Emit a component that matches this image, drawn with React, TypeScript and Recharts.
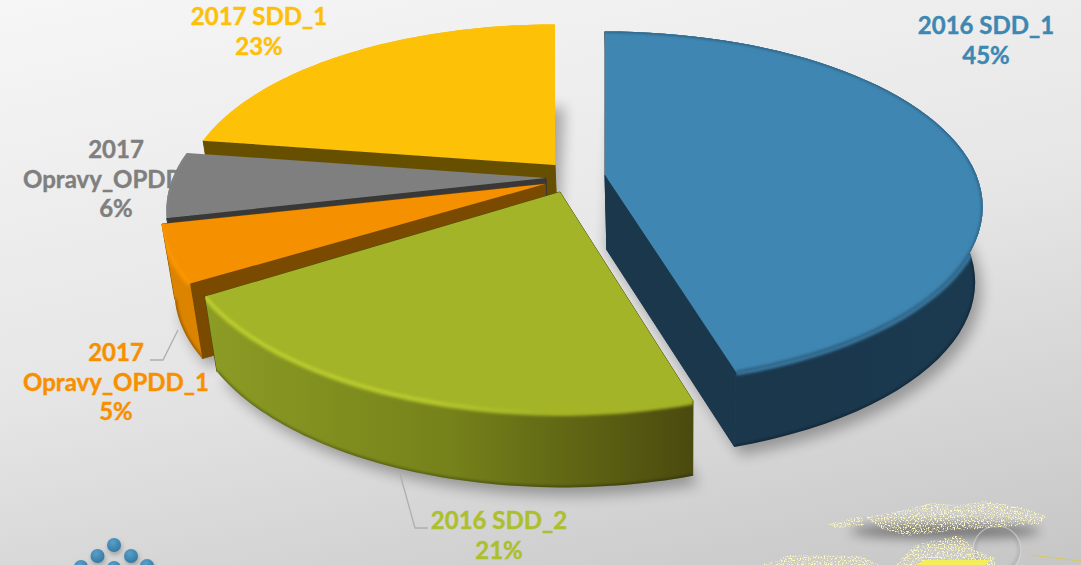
import { PieChart, Pie } from 'recharts'

// draw order runs back to front, so the slices go counter-clockwise from the top
const names = ['2017 SDD_1', '2017 Opravy_OPDD_2', '2017 Opravy_OPDD_1', '2016 SDD_2', '2016 SDD_1']
const shares = [22.6, 6, 5.2, 20.9, 45.3]
const data = names.map((name, i) => ({ name, value: shares[i] }))

const W = 1081
const H = 565
const CX = 555
const CY = 175
const R = 377
const RY = 171.5
const TILT = 0.183
const DEPTH = 75

const looks: Record<string, any> = {
  '2016 SDD_1': { dx: 50, dy: 0, sx: 0.985, sy: 0.99, top: '#3f86b2', cut: '#1a374c', wall: ['#1a374c', '#1a374c', '#1b3a50'], rim: '#1c3f56', text: '#3d87b3' },
  '2016 SDD_2': { dx: 5, dy: 17, sx: 1, sy: 1.05, top: '#a4b428', cut: '#4c4c10', wall: ['#8c9c24', '#76821a', '#4a4a0e'], rim: '#8b9a20', text: '#adbf2c', shine: '#c4d834' },
  '2017 Opravy_OPDD_1': { dx: -10, dy: 9, sx: 1, sy: 1, top: '#f59000', cut: '#7a4a00', wall: ['#dc8400', '#dc8400', '#dc8400'], rim: '#ff9f00', text: '#f79000' },
  '2017 Opravy_OPDD_2': { dx: -9, dy: 3, sx: 0.99, sy: 1, flat: true, top: '#7f7f7f', cut: '#383838', rim: '#8a8a8a', text: '#7f7f7f' },
  '2017 SDD_1': { dx: 0, dy: -10, sx: 0.97, sy: 0.97, flat: true, top: '#fdc107', cut: '#665000', rim: '#fdc107', text: '#fdc007' },
}

const labelSpots: Record<string, { x: number; y: number; lines: string[] }> = {
  '2016 SDD_1': { x: 986, y: 34, lines: ['2016 SDD_1'] },
  '2016 SDD_2': { x: 499, y: 529, lines: ['2016 SDD_2'] },
  '2017 Opravy_OPDD_1': { x: 116, y: 361, lines: ['2017', 'Opravy_OPDD_1'] },
  '2017 Opravy_OPDD_2': { x: 116, y: 158, lines: ['2017', 'Opravy_OPDD_2'] },
  '2017 SDD_1': { x: 259, y: 25, lines: ['2017 SDD_1'] },
}

const leaders: Record<string, string> = {
  '2016 SDD_2': '400,474 415,528 428,528',
  '2017 Opravy_OPDD_1': '178,330 163,360 150,360',
}

const rad = (d: number) => (d * Math.PI) / 180

// top face point for a clockwise-from-top angle, with the picture's perspective
function project(ax: number, ay: number, theta: number, sx: number, sy: number) {
  const u = -Math.cos(rad(theta))
  const v = Math.sin(rad(theta))
  const w = 1 - TILT * u
  return { x: ax + (R * sx * v) / w, y: ay + (RY * sy * u) / w }
}

// same point dropped to the bottom of the slab
function drop(p: { x: number; y: number }) {
  return { x: 680 + (p.x - 680) * 0.975, y: p.y + DEPTH }
}

function line(pts: { x: number; y: number }[]) {
  return pts.map((p, i) => `${i ? 'L' : 'M'}${p.x.toFixed(1)} ${p.y.toFixed(1)}`).join(' ')
}

function sliceGeometry(props: any) {
  const look = looks[props.name ?? props.payload?.name]
  const ax = props.cx + look.dx
  const ay = props.cy + look.dy
  // recharts angles are counter-clockwise from east
  const a = 90 - props.endAngle
  const b = 90 - props.startAngle
  const from = ((Math.min(a, b) % 360) + 360) % 360
  const span = Math.abs(b - a)
  const arc = []
  for (let i = 0; i <= 60; i++) arc.push(project(ax, ay, from + (span * i) / 60, look.sx, look.sy))
  return { look, ax, ay, arc, apex: { x: ax, y: ay } }
}

function renderShadow(props: any) {
  const { arc, apex } = sliceGeometry(props)
  const bottom = arc.map(drop).map((p) => ({ x: p.x + 6, y: p.y + 8 }))
  const d = line([drop(apex), ...bottom]) + ' Z'
  return <path d={d} fill="#000" opacity={0.3} filter="url(#softShadow)" />
}

function renderSlice(props: any) {
  const { look, apex, arc } = sliceGeometry(props)
  const id = (props.name ?? props.payload?.name).replace(/\W/g, '')
  const bottomArc = arc.map(drop)
  const low = drop(apex)
  const first = arc[0]
  const last = arc[arc.length - 1]
  const xs = arc.map((p) => p.x)
  const minX = Math.min(...xs)
  const maxX = Math.max(...xs)
  const wallD = line([...arc, ...[...bottomArc].reverse()]) + ' Z'
  const topD = line([apex, ...arc]) + ' Z'
  const rimD = line(arc)
  const cutStyle = { fill: look.cut, stroke: look.cut, strokeWidth: 1, strokeLinejoin: 'round' as const }
  return (
    <g>
      <defs>
        <linearGradient id={`wall${id}`} gradientUnits="userSpaceOnUse" x1={minX} x2={maxX} y1={0} y2={0}>
          {(look.wall ?? []).map((c: string, i: number) => (
            <stop key={i} offset={i / 2} stopColor={c} />
          ))}
        </linearGradient>
        <linearGradient id={`shine${id}`} gradientUnits="userSpaceOnUse" x1={minX} x2={maxX} y1={0} y2={0}>
          <stop offset="0" stopColor={look.shine ?? look.rim} stopOpacity="1" />
          <stop offset="0.45" stopColor={look.shine ?? look.rim} stopOpacity="0.8" />
          <stop offset="0.7" stopColor={look.shine ?? look.rim} stopOpacity="0" />
        </linearGradient>
        <clipPath id={`solid${id}`}>
          <path d={topD} />
          {!look.flat && <path d={wallD} />}
        </clipPath>
      </defs>
      <path d={line([apex, first, drop(first), low]) + ' Z'} {...cutStyle} />
      {!look.flat && <path d={line([apex, last, drop(last), low]) + ' Z'} {...cutStyle} />}
      {!look.flat && (
        <>
          <path d={wallD} fill={`url(#wall${id})`} />
          <path d={line(bottomArc)} fill="none" stroke="#000" strokeOpacity={0.35} strokeWidth={3} filter="url(#softEdge)" clipPath={`url(#solid${id})`} />
        </>
      )}
      <path d={topD} fill={look.top} />
      <g clipPath={`url(#solid${id})`}>
        <path d={rimD} fill="none" stroke={look.top} strokeWidth={7} filter="url(#softEdge)" />
        <path d={rimD} fill="none" stroke={look.shine ? `url(#shine${id})` : look.rim} strokeWidth={look.shine ? 2.5 : 1.5} filter="url(#softEdge)" />
      </g>
    </g>
  )
}

function renderLabel(props: any) {
  const name = props.name ?? props.payload?.name
  const spot = labelSpots[name]
  const look = looks[name]
  const rows = [...spot.lines, `${Math.round(props.percent * 100)}%`]
  return (
    <g key={name}>
      {leaders[name] && <polyline points={leaders[name]} fill="none" stroke="#aeaeae" strokeWidth={1.3} />}
      <text fill={look.text} stroke={look.text} strokeWidth={0.4} fontFamily="Lato, sans-serif" fontWeight={700} fontSize={24} textAnchor="middle">
        {rows.map((row, i) => (
          <tspan key={row} x={spot.x} y={spot.y + i * 29.5}>
            {row}
          </tspan>
        ))}
      </text>
    </g>
  )
}

function Backdrop() {
  const dots = [[114, 545], [97.5, 556], [131, 556], [81, 567], [147, 566], [114, 568]]
  return (
    <svg width={W} height={H} style={{ position: 'absolute', left: 0, top: 0 }}>
      <defs>
        <filter id="softShadow" x="-20%" y="-20%" width="140%" height="140%">
          <feGaussianBlur stdDeviation="7" />
        </filter>
        <filter id="softEdge" filterUnits="userSpaceOnUse" x="0" y="0" width={W} height={H}>
          <feGaussianBlur stdDeviation="1.6" />
        </filter>
        <filter id="dotShade" x="-50%" y="-50%" width="200%" height="200%">
          <feGaussianBlur stdDeviation="2.5" />
        </filter>
        <filter id="blotShade" x="-20%" y="-200%" width="140%" height="500%">
          <feGaussianBlur stdDeviation="6" />
        </filter>
        <filter id="speckle" x="0" y="0" width="100%" height="100%">
          <feTurbulence type="fractalNoise" baseFrequency="0.7" numOctaves="2" seed="4" />
          <feColorMatrix values="0 0 0 0 1  0 0 0 0 0.95  0 0 0 0 0.5  4 4 0 0 -3.95" />
          <feComposite in2="SourceGraphic" operator="in" />
        </filter>
        <radialGradient id="dotFill" cx="0.4" cy="0.3" r="0.8">
          <stop offset="0" stopColor="#5a9fc8" />
          <stop offset="1" stopColor="#2f749f" />
        </radialGradient>
      </defs>
      {dots.map(([x, y]) => (
        <circle key={`${x}-${y}-s`} cx={x + 1} cy={y + 3} r={7} fill="#000" opacity={0.25} filter="url(#dotShade)" />
      ))}
      {dots.map(([x, y]) => (
        <circle key={`${x}-${y}`} cx={x} cy={y} r={7} fill="url(#dotFill)" />
      ))}
      <ellipse cx={945} cy={531} rx={95} ry={7} fill="#000" opacity={0.45} filter="url(#blotShade)" />
      <circle cx={997} cy={550} r={22} fill="none" stroke="#8f8f8f" strokeWidth={2} opacity={0.5} filter="url(#softEdge)" />
      <circle cx={997} cy={550} r={24} fill="none" stroke="#e8e8e8" strokeWidth={1.2} opacity={0.5} />
      <g filter="url(#speckle)">
        <path d="M865 517 L900 511 L930 503 L960 505 L985 501 L1020 507 L1046 516 L1040 524 L1000 527 L950 531 L905 536 L880 528 Z" fill="#fff" />
        <path d="M828 524 L862 516 L864 526 L835 528 Z" fill="#fff" />
        <path d="M760 565 L790 555 L860 556 L880 565 Z" fill="#fff" />
        <path d="M895 565 L915 545 L960 535 L975 550 L995 558 L995 565 Z" fill="#fff" />
      </g>
      <path d="M916 565 L925 560 L990 560 L985 565 Z" fill="#f4ee5a" />
      <path d="M1030 555 L1081 561" stroke="#d9c95e" strokeWidth={1.2} />
    </svg>
  )
}

export default function App() {
  return (
    <div
      style={{
        position: 'absolute',
        left: 0,
        top: 0,
        width: W,
        height: H,
        overflow: 'hidden',
        background: 'linear-gradient(168deg, #f6f6f6 0%, #e6e6e6 50%, #c6c6c6 100%)',
      }}
    >
      <Backdrop />
      <div style={{ position: 'absolute', left: 0, top: 0 }}>
        <PieChart width={W} height={H} margin={{ top: 0, right: 0, bottom: 0, left: 0 }}>
          <Pie
            data={data}
            dataKey="value"
            nameKey="name"
            cx={CX}
            cy={CY}
            outerRadius={R}
            startAngle={90}
            endAngle={450}
            stroke="none"
            shape={renderShadow}
            isAnimationActive={false}
          />
          <Pie
            data={data}
            dataKey="value"
            nameKey="name"
            cx={CX}
            cy={CY}
            outerRadius={R}
            startAngle={90}
            endAngle={450}
            stroke="none"
            shape={renderSlice}
            label={renderLabel}
            labelLine={false}
            isAnimationActive={false}
          />
        </PieChart>
      </div>
    </div>
  )
}
